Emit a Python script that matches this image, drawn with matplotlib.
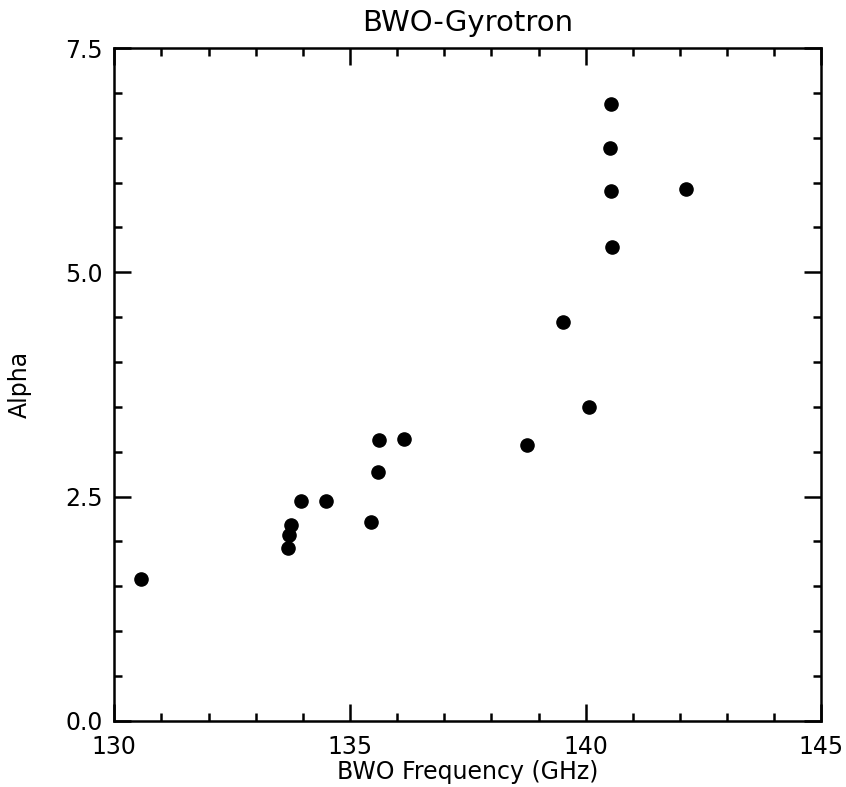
import matplotlib.pyplot as plt
from matplotlib.ticker import MultipleLocator

# BWO frequency (GHz) and alpha
freq = [130.57, 133.69, 133.71, 133.75, 133.96, 134.50, 135.45, 135.60,
        135.61, 136.14, 138.76, 139.52, 140.07, 140.54, 140.52, 140.53,
        142.12, 140.55]
alpha = [1.58, 1.93, 2.07, 2.18, 2.45, 2.45, 2.22, 2.77,
         3.13, 3.14, 3.08, 4.45, 3.50, 6.88, 6.39, 5.91,
         5.93, 5.28]

x_ticks = [130, 135, 140, 145]
y_ticks = [0.0, 2.5, 5.0, 7.5]

fig = plt.figure(figsize=(8.46, 7.87), dpi=100)
ax = fig.add_axes([0.135, 0.084, 0.836, 0.855])

ax.scatter(freq, alpha, s=90, color="black", zorder=3)

ax.set_xlim(130, 145)
ax.set_ylim(0, 7.5)
ax.set_xticks(x_ticks)
ax.set_xticklabels([str(t) for t in x_ticks])
ax.set_yticks(y_ticks)
ax.set_yticklabels([f"{t:.1f}" for t in y_ticks])
ax.xaxis.set_minor_locator(MultipleLocator(1))
ax.yaxis.set_minor_locator(MultipleLocator(0.5))

ax.tick_params(which="both", direction="in", top=True, right=True,
               width=1.8, labelsize=17)
ax.tick_params(axis="x", pad=10)
ax.tick_params(axis="y", pad=8)
ax.tick_params(which="major", length=12)
ax.tick_params(which="minor", length=6)
for side in ax.spines.values():
    side.set_linewidth(1.8)

ax.set_title("BWO-Gyrotron", fontsize=21, pad=12)
ax.set_xlabel("BWO Frequency (GHz)", fontsize=17, labelpad=1)
ax.set_ylabel("Alpha", fontsize=17, labelpad=24)

fig.savefig("out.png", dpi=100)
